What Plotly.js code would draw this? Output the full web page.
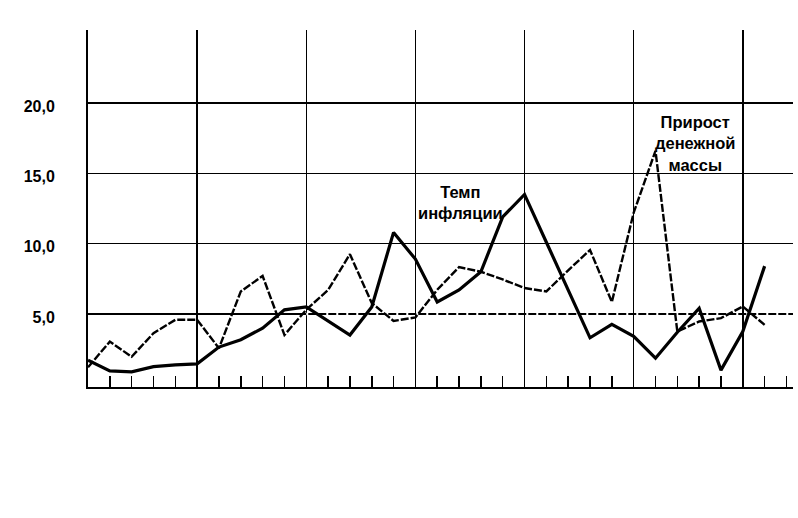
<!DOCTYPE html>
<html>
<head>
<meta charset="utf-8">
<script src="https://cdn.plot.ly/plotly-3.0.1.min.js"></script>
<style>
  html, body { margin: 0; padding: 0; background: #ffffff; }
  #chart { width: 798px; height: 518px; }
</style>
</head>
<body>
<div id="chart"></div>
<script>
// Periods (tick positions along the bottom axis)
var periods = [0, 1, 2, 3, 4, 5, 6, 7, 8, 9, 10, 11, 12, 13, 14, 15,
               16, 17, 18, 19, 20, 21, 22, 23, 24, 25, 26, 27, 28, 29, 30, 31];

// Темп инфляции (thick solid line)
var inflation = [1.7, 0.95, 0.88, 1.25, 1.37, 1.45, 2.64, 3.16, 3.99, 5.29, 5.5, 4.5,
                 3.5, 5.5, 10.8, 8.9, 5.85, 6.7, 8.0, 11.9, 13.5, 10.1, 6.7, 3.3,
                 4.25, 3.4, 1.85, 3.7, 5.4, 1.0, 3.75, 8.4];

// Прирост денежной массы (thin dashed line)
var moneyGrowth = [1.2, 3.03, 1.95, 3.63, 4.58, 4.58, 2.56, 6.6, 7.7, 3.5, 5.3, 6.7,
                   9.25, 5.77, 4.5, 4.75, 6.72, 8.33, 8.0, 7.45, 6.84, 6.6, 8.1, 9.55,
                   5.85, 12.2, 16.6, 3.75, 4.46, 4.7, 5.53, 4.22];

// Y tick values and labels
var yTickVals = [5, 10, 15, 20];
var yTickText = ['5,0', '10,0', '15,0', '20,0'];

var traces = [
  {
    x: periods, y: moneyGrowth, type: 'scatter', mode: 'lines',
    line: { color: '#000000', width: 2.4, dash: '8px,2px' },
    hoverinfo: 'skip'
  },
  {
    x: periods, y: inflation, type: 'scatter', mode: 'lines',
    line: { color: '#000000', width: 3.2 },
    hoverinfo: 'skip'
  }
];

var labelFont = { family: 'Liberation Sans, Arial, sans-serif', size: 16.5, color: '#000000', weight: 'bold' };

var layout = {
  width: 798, height: 518,
  margin: { l: 88, r: 5, t: 30, b: 131, pad: 0 },
  paper_bgcolor: '#ffffff', plot_bgcolor: '#ffffff',
  showlegend: false,
  xaxis: {
    range: [0, 32.3],
    showline: true, linecolor: '#000000', linewidth: 2,
    showgrid: true, gridcolor: '#000000', gridwidth: 1.5,
    tickmode: 'linear', tick0: 0, dtick: 5,
    ticks: 'inside', ticklen: 11, tickwidth: 1.5, tickcolor: '#000000',
    showticklabels: false, zeroline: false,
    minor: { tickmode: 'linear', tick0: 0, dtick: 1, ticks: 'inside', ticklen: 11,
             tickwidth: 1.5, tickcolor: '#000000', showgrid: false }
  },
  yaxis: {
    range: [-0.2, 25.2],
    tickmode: 'array', tickvals: yTickVals, ticktext: yTickText,
    showline: true, linecolor: '#000000', linewidth: 2,
    showgrid: true, gridcolor: '#000000', gridwidth: 1.5,
    zeroline: false, ticks: '', ticklabelstandoff: 28, ticklabelshift: 3,
    tickfont: { family: 'Liberation Sans, Arial, sans-serif',
                size: 16, color: '#000000', weight: 'bold' }
  },
  shapes: [
    {
      type: 'line', xref: 'x', yref: 'y', x0: 10, x1: 32.3, y0: 5, y1: 5,
      layer: 'between',
      line: { color: '#ffffff', width: 2.5, dash: '2px,8px' }
    }
  ],
  annotations: [
    { x: 17.05, y: 12.9, xref: 'x', yref: 'y', text: 'Темп<br>инфляции',
      showarrow: false, font: labelFont, align: 'center', xanchor: 'center', yanchor: 'middle' },
    { x: 27.8, y: 17.15, xref: 'x', yref: 'y', text: 'Прирост<br>денежной<br>массы',
      showarrow: false, font: labelFont, align: 'center', xanchor: 'center', yanchor: 'middle' }
  ]
};

Plotly.newPlot('chart', traces, layout, { displayModeBar: false, staticPlot: true });
</script>
</body>
</html>
